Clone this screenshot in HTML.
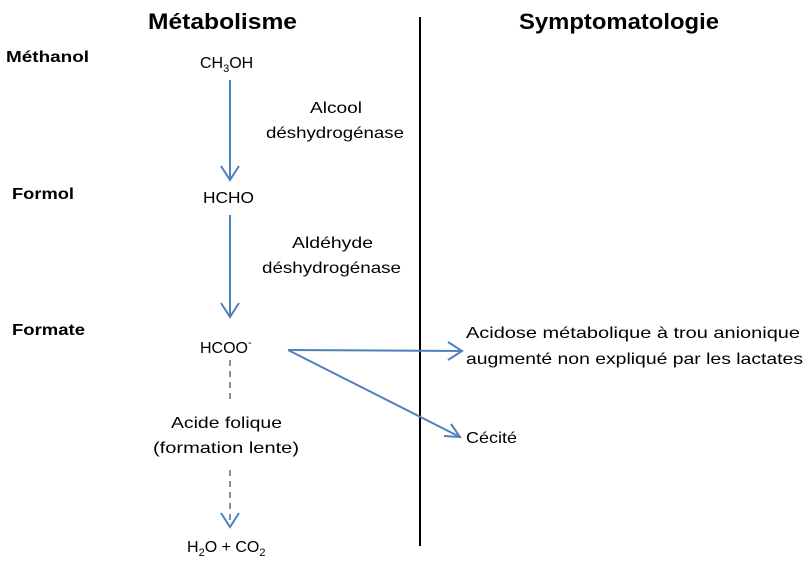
<!DOCTYPE html>
<html><head><meta charset="utf-8"><style>
html,body{margin:0;padding:0;background:#fff;}
svg{display:block;font-family:"Liberation Sans",sans-serif;}
</style></head><body>
<svg width="808" height="571" viewBox="0 0 808 571" xmlns="http://www.w3.org/2000/svg">
<g font-weight="bold" font-size="22" fill="#000">
<text x="148" y="29" textLength="149" lengthAdjust="spacingAndGlyphs">Métabolisme</text>
<text x="519" y="29" textLength="200" lengthAdjust="spacingAndGlyphs">Symptomatologie</text>
</g>
<g font-weight="bold" font-size="16" fill="#000">
<text x="6" y="62" textLength="83" lengthAdjust="spacingAndGlyphs">Méthanol</text>
<text x="12" y="199" textLength="62" lengthAdjust="spacingAndGlyphs">Formol</text>
<text x="12" y="335" textLength="73" lengthAdjust="spacingAndGlyphs">Formate</text>
</g>
<line x1="420" y1="17" x2="420" y2="546" stroke="#000" stroke-width="2"/>
<g font-size="16" fill="#000">
<text x="200" y="68">CH<tspan font-size="11" dy="4">3</tspan><tspan dy="-4">OH</tspan></text>
<text x="203" y="203" textLength="51" lengthAdjust="spacingAndGlyphs">HCHO</text>
<text x="200" y="353">HCOO<tspan font-size="11" dy="-7">-</tspan></text>
<text x="310" y="113" textLength="52" lengthAdjust="spacingAndGlyphs">Alcool</text>
<text x="266" y="138" textLength="138" lengthAdjust="spacingAndGlyphs">déshydrogénase</text>
<text x="292" y="248" textLength="81" lengthAdjust="spacingAndGlyphs">Aldéhyde</text>
<text x="262" y="273" textLength="139" lengthAdjust="spacingAndGlyphs">déshydrogénase</text>
<text x="171" y="428" textLength="111" lengthAdjust="spacingAndGlyphs">Acide folique</text>
<text x="153" y="453" textLength="146" lengthAdjust="spacingAndGlyphs">(formation lente)</text>
<text x="187" y="552">H<tspan font-size="11" dy="4">2</tspan><tspan dy="-4">O + CO</tspan><tspan font-size="11" dy="4">2</tspan></text>
<text x="466" y="338" textLength="334" lengthAdjust="spacingAndGlyphs">Acidose  métabolique à trou anionique</text>
<text x="466" y="364" textLength="337" lengthAdjust="spacingAndGlyphs">augmenté non expliqué par les lactates</text>
<text x="466" y="443" textLength="51" lengthAdjust="spacingAndGlyphs">Cécité</text>
</g>
<g stroke="#4f81bd" stroke-width="2" fill="none">
<line x1="230" y1="80" x2="230" y2="180"/>
<polyline points="221,166 230,180 239,166"/>
<line x1="230" y1="215" x2="230" y2="317"/>
<polyline points="221,303 230,317 239,303"/>
<line x1="288" y1="350" x2="462" y2="351"/>
<polyline points="448,342 462,351 448,360"/>
<line x1="288" y1="350" x2="460" y2="437"/>
<polyline points="444,436 460,437 451,424"/>
</g>
<g stroke="#7f8fa8" stroke-width="2" fill="none" stroke-dasharray="6,5">
<line x1="230" y1="360" x2="230" y2="400"/>
<line x1="230" y1="470" x2="230" y2="526"/>
</g>
<polyline points="221,513 230,527 239,513" stroke="#4f81bd" stroke-width="2" fill="none"/>
</svg>
</body></html>
